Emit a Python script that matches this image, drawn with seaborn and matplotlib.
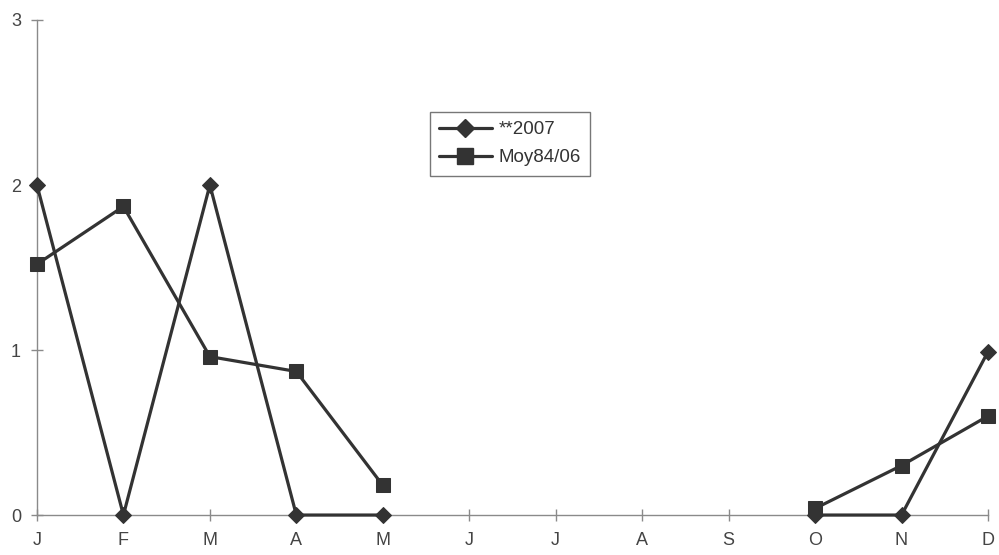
import numpy as np
import pandas as pd
import matplotlib
matplotlib.use("Agg")
import matplotlib.pyplot as plt
from matplotlib.lines import Line2D
import seaborn as sns

months = ["J", "F", "M", "A", "M", "J", "J", "A", "S", "O", "N", "D"]
series_2007 = [2, 0, 2, 0, 0, None, None, None, None, 0, 0, 0.99]
series_moy = [1.52, 1.87, 0.96, 0.87, 0.18, None, None, None, None, 0.04, 0.30, 0.60]
series_names = ["**2007", "Moy84/06"]
y_ticks = [0, 1, 2, 3]

sns.set_style("white")
plt.rcParams["font.family"] = ["Liberation Sans", "DejaVu Sans"]

rows = []
for name, vals in zip(series_names, [series_2007, series_moy]):
    seg = 0
    for i, v in enumerate(vals):
        if v is None:
            seg += 1
            continue
        rows.append({"pos": i, "value": v, "series": name, "seg": f"{name}-{seg}"})
df = pd.DataFrame(rows)

line_color = "#333333"
fig = plt.figure(figsize=(9.99, 5.55), dpi=100)
ax = fig.add_axes([0.037, 0.072, 0.952, 0.892])

markers = {"**2007": "D", "Moy84/06": "s"}
sizes = {"**2007": 8, "Moy84/06": 10}
for name in series_names:
    sub = df[df["series"] == name]
    sns.lineplot(data=sub, x="pos", y="value", units="seg", estimator=None,
                 color=line_color, lw=2.3, marker=markers[name],
                 markersize=sizes[name], markeredgecolor=line_color,
                 markerfacecolor=line_color, ax=ax, legend=False, zorder=3)
for ln in ax.get_lines():
    ln.set_clip_on(False)

ax.set_xlim(0, 11)
ax.set_ylim(0, 3)
ax.set_xticks(range(12))
ax.set_xticklabels(months)
ax.set_yticks(y_ticks)
ax.set_xlabel("")
ax.set_ylabel("")

for side in ["top", "right"]:
    ax.spines[side].set_visible(False)
for side in ["left", "bottom"]:
    ax.spines[side].set_color("#8a8a8a")
    ax.spines[side].set_linewidth(1.0)

ax.tick_params(axis="both", bottom=True, left=True, direction="inout",
               length=9, width=1.0, color="#8a8a8a", labelsize=13,
               labelcolor="#444444")
ax.tick_params(axis="x", pad=8)
ax.tick_params(axis="y", pad=7)

handles = [Line2D([], [], color=line_color, lw=2.3, marker="D", markersize=9),
           Line2D([], [], color=line_color, lw=2.3, marker="s", markersize=11)]
leg = ax.legend(handles, series_names, loc="upper left",
                bbox_to_anchor=(0.413, 0.815), frameon=True, fancybox=False,
                edgecolor="#555555", fontsize=13.5, handlelength=2.8,
                borderpad=0.5, labelspacing=0.6, handletextpad=0.35,
                borderaxespad=0)
leg.get_frame().set_linewidth(1.0)
for t in leg.get_texts():
    t.set_color("#333333")

fig.savefig("out.png", dpi=100, facecolor="white")
